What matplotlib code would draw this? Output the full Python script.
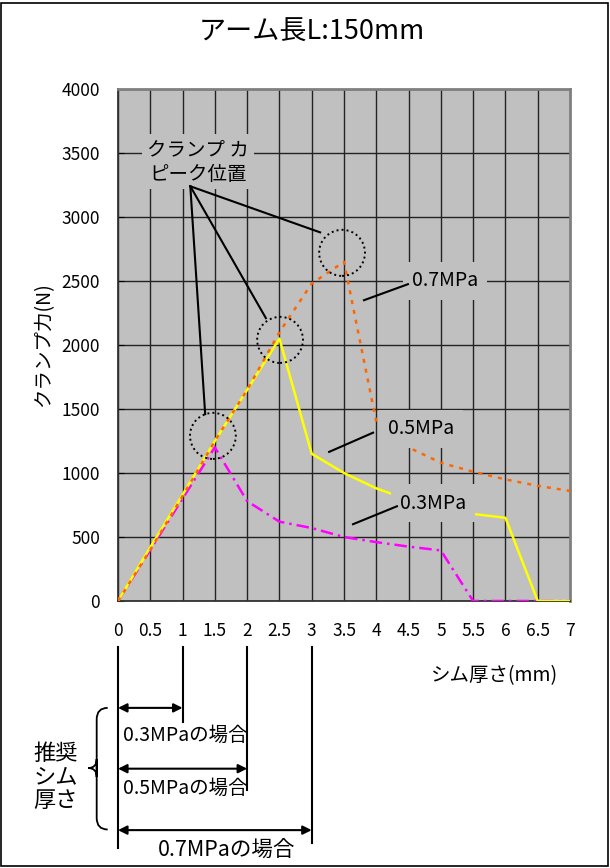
import matplotlib
matplotlib.use('Agg')
import matplotlib.pyplot as plt
from matplotlib.patches import Ellipse, Rectangle, PathPatch
from matplotlib.path import Path

plt.rcParams['font.family'] = ['Noto Sans CJK JP', 'DejaVu Sans']

# shim thickness (mm)
shim = [0, 0.5, 1, 1.5, 2, 2.5, 3, 3.5, 4, 4.5, 5, 5.5, 6, 6.5, 7]
# clamp force (N) for each pressure
force_07 = [0, 400, 820, 1250, 1650, 2100, 2480, 2650, 1400, 1200, 1080, 1010, 950, 900, 860]
force_05 = [0, 420, 830, 1250, 1650, 2050, 1150, 1000, 880, 790, 730, 680, 650, 0, 0]
force_03 = [0, 400, 800, 1200, 780, 620, 570, 500, 460, 425, 395, 0, 0, 0, 0]

x_ticks = [0, 0.5, 1, 1.5, 2, 2.5, 3, 3.5, 4, 4.5, 5, 5.5, 6, 6.5, 7]
x_tick_labels = ['0', '0.5', '1', '1.5', '2', '2.5', '3', '3.5', '4', '4.5', '5', '5.5', '6', '6.5', '7']
y_ticks = [0, 500, 1000, 1500, 2000, 2500, 3000, 3500, 4000]

# peak positions (x, y) marked with dotted circles
peaks = [(1.47, 1290), (2.51, 2040), (3.47, 2720)]
# recommended shim thickness per pressure
recommended = [(1, '0.3MPaの場合'), (2, '0.5MPaの場合'), (3, '0.7MPaの場合')]

fig = plt.figure(figsize=(6.1, 8.68), dpi=100)
ax = fig.add_axes([118 / 610, 267 / 868, 452 / 610, 512 / 868])
ax.set_facecolor('#C0C0C0')

# figure border
fig.patches.append(Rectangle((0.002, 0.002), 0.994, 0.995, transform=fig.transFigure,
                             fill=False, edgecolor='black', linewidth=1.2))

ax.set_xlim(0, 7)
ax.set_ylim(0, 4000)
ax.set_xticks(x_ticks)
ax.set_xticklabels(x_tick_labels)
ax.set_yticks(y_ticks)
ax.tick_params(axis='x', length=0, pad=15, labelsize=12.5)
ax.tick_params(axis='y', direction='in', length=4, pad=13, labelsize=12.5)
ax.grid(True, color='#222222', linewidth=1.0)
ax.set_axisbelow(True)
for side in ['left', 'bottom']:
    ax.spines[side].set_color('#333333')
    ax.spines[side].set_linewidth(1.3)
for side in ['right', 'top']:
    ax.spines[side].set_color('#808080')
    ax.spines[side].set_linewidth(2)

ax.plot(shim, force_03, color='#FF00FF', linewidth=1.8, linestyle=(0, (5, 2, 1, 2)), zorder=3)
ax.plot(shim, force_05, color='#FFFF00', linewidth=1.8, zorder=4)
ax.plot(shim, force_07, color='#FF6600', linewidth=1.8, linestyle=(0, (1.6, 2.4)), zorder=5)

fig.text(312 / 610, 1 - 32 / 868, 'アーム長L:150mm', fontsize=19.5, ha='center', va='center')
ax.set_ylabel('クランプ力(N)', fontsize=14, labelpad=5)
ax.set_xlabel('シム厚さ(mm)', fontsize=14)
ax.xaxis.set_label_coords(0.834, -0.146)
ax.xaxis.label.set_va('center')

# dotted circles at peaks
for px, py in peaks:
    ax.add_patch(Ellipse((px, py), 0.71, 360, fill=False, edgecolor='black',
                         linestyle=(0, (1, 1.6)), linewidth=1.4, zorder=6))

box = dict(boxstyle='square,pad=0.45', facecolor='#C0C0C0', edgecolor='none')

# peak label with leader lines
ax.text(1.24, 3430, 'クランプ カ\nピーク位置', fontsize=14, ha='center', va='center',
        linespacing=1.2, bbox=dict(boxstyle='square,pad=0.25', facecolor='#C0C0C0', edgecolor='none'),
        zorder=7)
for ex, ey in [(3.13, 2880), (2.29, 2210), (1.35, 1460)]:
    ax.plot([1.12, ex], [3240, ey], color='black', linewidth=1.5, zorder=7)

# pressure labels with leader lines
labels = [('0.7MPa', (5.06, 2500), (3.81, 2350), (4.49, 2475)),
          ('0.5MPa', (4.69, 1345), (3.27, 1165), (3.95, 1315)),
          ('0.3MPa', (4.88, 765), (3.64, 600), (4.32, 740))]
for txt, (tx, ty), (x0, y0), (x1, y1) in labels:
    ax.text(tx, ty, txt, fontsize=14, ha='center', va='center', bbox=box, zorder=7)
    ax.plot([x0, x1], [y0, y1], color='black', linewidth=1.5, zorder=7)

# recommended shim thickness below the chart
top = -360
ends = {1: -945, 2: -1480, 3: -1890}
arrow_y = {1: -835, 2: -1310, 3: -1790}
text_y = {1: -1050, 2: -1460, 3: -1945}
ax.plot([0, 0], [top, -1930], color='black', linewidth=1.5, clip_on=False)
for xv, txt in recommended:
    ax.plot([xv, xv], [top, ends[xv]], color='black', linewidth=1.5, clip_on=False)
    ax.annotate('', xy=(xv, arrow_y[xv]), xytext=(0, arrow_y[xv]), annotation_clip=False,
                arrowprops=dict(arrowstyle='<|-|>', color='black', linewidth=1.5,
                                mutation_scale=13, shrinkA=0, shrinkB=0))
    if xv == 3:
        ax.text(1.68, text_y[xv], txt, fontsize=15.5, ha='center', va='center', clip_on=False)
    else:
        ax.text(0.08, text_y[xv], txt, fontsize=14, ha='left', va='center', clip_on=False)

# curly brace
bx, tip = -0.33, -0.46
y_top, y_mid, y_bot = -835, -1305, -1785
brace = Path([(-0.16, y_top), (bx, y_top), (bx, y_top - 90),
              (bx, y_mid - 70),
              (bx, y_mid), (tip, y_mid),
              (bx, y_mid), (bx, y_mid + 70),
              (bx, y_bot + 90),
              (bx, y_bot), (-0.16, y_bot)],
             [Path.MOVETO, Path.CURVE3, Path.CURVE3,
              Path.LINETO,
              Path.CURVE3, Path.CURVE3,
              Path.CURVE3, Path.CURVE3,
              Path.LINETO,
              Path.CURVE3, Path.CURVE3])
ax.add_patch(PathPatch(brace, fill=False, edgecolor='black', linewidth=1.3, clip_on=False))
ax.text(-1.31, -1375, '推奨\nシム\n厚さ', fontsize=16, ha='left', va='center',
        linespacing=1.05, clip_on=False)

fig.savefig('out.png', dpi=100)
